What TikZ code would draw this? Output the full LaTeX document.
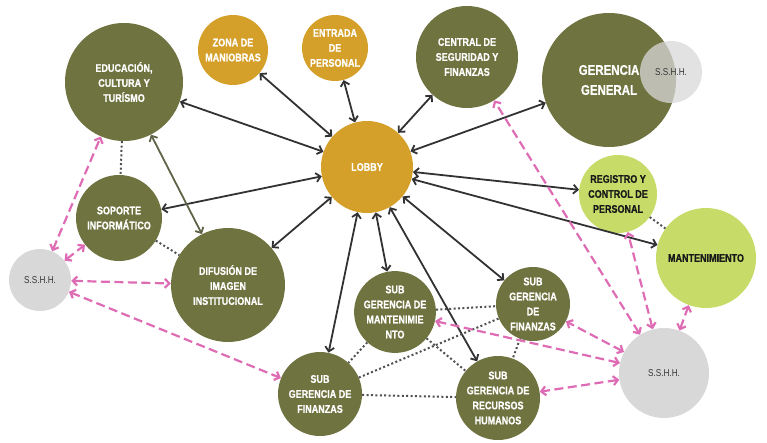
\documentclass[tikz,border=0pt]{standalone}
\usepackage{fontspec}
\newfontfamily\narrowsans{Liberation Sans}[FakeStretch=0.82, BoldFeatures={FakeBold=0.8}]
\usetikzlibrary{arrows.meta}
\definecolor{deptgreen}{RGB}{111,115,64}
\definecolor{accessgold}{RGB}{213,160,42}
\definecolor{servicegreen}{RGB}{198,219,104}
\definecolor{wcgray}{RGB}{216,216,216}
\definecolor{wctext}{RGB}{55,55,55}
\definecolor{linkgray}{RGB}{50,50,52}
\definecolor{edgegray}{RGB}{96,99,72}
\definecolor{dotgray}{RGB}{80,80,80}
\definecolor{wcpink}{RGB}{222,108,180}
\tikzset{
	dept/.style={circle, fill=deptgreen, text=white, align=center, inner sep=0pt, font=\narrowsans\bfseries\fontsize{11}{15}\selectfont},
	access/.style={dept, fill=accessgold},
	service/.style={dept, fill=servicegreen, text=black!90},
	wc/.style={circle, fill=wcgray, text=wctext, align=center, inner sep=0pt, font=\narrowsans\fontsize{10}{12}\selectfont},
	link/.style={{Straight Barb[length=4.5pt,width=9pt]}-{Straight Barb[length=4.5pt,width=9pt]}, draw=linkgray, line width=1.8pt},
	near/.style={draw=dotgray, line width=2pt, dash pattern=on 2pt off 2.4pt},
	wclink/.style={{Straight Barb[length=4.5pt,width=9pt]}-{Straight Barb[length=4.5pt,width=9pt]}, draw=wcpink, line width=2.2pt, dash pattern=on 9pt off 4.5pt}
}
\begin{document}
\begin{tikzpicture}[x=1pt, y=-1pt]
	\useasboundingbox (0,0) rectangle (767,442);
	% areas
	\node[dept, minimum size=118pt] (edu) at (124,82) {EDUCACIÓN,\\CULTURA Y\\TURÍSMO};
	\node[access, minimum size=70pt] (zona) at (233,50) {ZONA DE\\MANIOBRAS};
	\node[access, minimum size=66pt] (entrada) at (335,48) {ENTRADA\\DE\\PERSONAL};
	\node[dept, minimum size=102pt] (central) at (467,57) {CENTRAL DE\\SEGURIDAD Y\\FINANZAS};
	\node[access, minimum size=92pt] (lobby) at (367,167) {LOBBY};
	\node[dept, minimum size=134pt, font=\narrowsans\bfseries\fontsize{14}{20}\selectfont] (gerencia) at (609,80) {GERENCIA\\GENERAL};
	\node[wc, minimum size=62pt, fill opacity=0.75, text opacity=1] (wcTop) at (671,72) {S.S.H.H.};
	\node[service, minimum size=78pt] (registro) at (618,194) {REGISTRO Y\\CONTROL DE\\PERSONAL};
	\node[service, minimum size=100pt] (mant) at (706,258) {MANTENIMIENTO};
	\node[wc, minimum size=90pt] (wcRight) at (664,373) {S.S.H.H.};
	\node[dept, minimum size=86pt] (soporte) at (119,218) {SOPORTE\\INFORMÁTICO};
	\node[wc, minimum size=62pt] (wcLeft) at (40,280) {S.S.H.H.};
	\node[dept, minimum size=114pt] (difusion) at (228,285) {DIFUSIÓN DE\\IMAGEN\\INSTITUCIONAL};
	\node[dept, minimum size=84pt] (subFinA) at (320,394) {SUB\\GERENCIA DE\\FINANZAS};
	\node[dept, minimum size=78pt] (subMant) at (395,312) {SUB\\GERENCIA DE\\MANTENIMIE\\NTO};
	\node[dept, minimum size=74pt] (subFinB) at (533,304) {SUB\\GERENCIA\\DE\\FINANZAS};
	\node[dept, minimum size=84pt] (subRH) at (498,398) {SUB\\GERENCIA DE\\RECURSOS\\HUMANOS};
	% lobby links
	\foreach \target in {edu, zona, entrada, central, gerencia, registro, mant, soporte, difusion, subFinA, subMant, subRH, subFinB}
		\draw[link] (lobby) -- (\target);
	\draw[link, draw=edgegray] (edu) -- (difusion);
	% neighbours
	\draw[near] (edu) -- (soporte);
	\draw[near] (soporte) -- (difusion);
	\draw[near] (registro) -- (mant);
	\draw[near] (subMant) -- (subFinB);
	\draw[near] (subMant) -- (subFinA);
	\draw[near] (subMant) -- (subRH);
	\draw[near] (subFinA) -- (subFinB);
	\draw[near] (subFinA) -- (subRH);
	\draw[near] (subFinB) -- (subRH);
	% restrooms
	\foreach \target in {edu, soporte, difusion, subFinA}
		\draw[wclink] (wcLeft) -- (\target);
	\foreach \target in {central, registro, mant, subFinB, subMant, subRH}
		\draw[wclink] (wcRight) -- (\target);
\end{tikzpicture}
\end{document}
